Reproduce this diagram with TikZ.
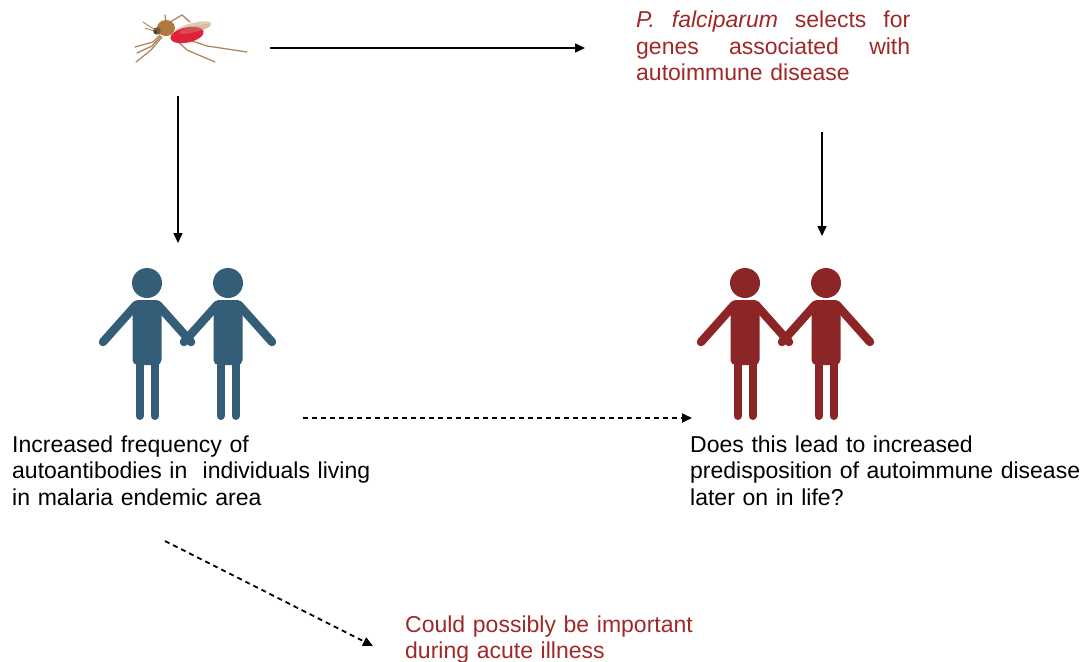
\documentclass[tikz,border=0pt]{standalone}
\usepackage{fontspec}
\setmainfont{Liberation Sans}
\usetikzlibrary{arrows.meta}

\definecolor{pplblue}{RGB}{52,94,120}
\definecolor{pplred}{RGB}{140,38,38}
\definecolor{txtred}{RGB}{160,40,40}
\definecolor{mosqbrown}{RGB}{176,120,64}
\definecolor{mosqleg}{RGB}{176,134,92}
\definecolor{mosqred}{RGB}{222,34,60}
\definecolor{mosqwing}{RGB}{200,168,126}

\tikzset{
  every node/.style={inner sep=0pt, font=\fontsize{23}{26.5}\selectfont},
  fwd/.style={line width=1.5pt, -{Triangle[length=10pt,width=9pt]}},
  maybe/.style={fwd, line width=1.8pt, dash pattern=on 5pt off 4pt},
  leg/.style={mosqleg, line width=1.3pt, line cap=round, line join=round},
  pics/person/.style={code={
    \fill (0,0) circle (15);
    \fill[rounded corners=5] (-14.5,17) rectangle (14.5,82);
    \draw[line width=8pt, line cap=round] (-7.5,76) -- (-7.5,133);
    \draw[line width=8pt, line cap=round] (7.5,76) -- (7.5,133);
    \draw[line width=8.5pt, line cap=round] (-11,22) -- (-44,59);
    \draw[line width=8.5pt, line cap=round] (11,22) -- (44,59);
  }}
}

\begin{document}
\begin{tikzpicture}[x=1pt, y=-1pt]
    \useasboundingbox (0,0) rectangle (1091,661);

    % mosquito
    \draw[leg] (160,35) -- (153,42) -- (135,47);
    \draw[leg] (161,36) -- (152,46) -- (137,53);
    \draw[leg] (162,37) -- (151,50) -- (136,62);
    \draw[leg] (172,36) -- (187,50) -- (215,62);
    \draw[leg] (175,35) -- (207,46) -- (247,52);
    \draw[leg] (166,22) -- (165,15);
    \draw[leg] (170,22) -- (182,15) -- (190,22);
    \draw[leg, line width=0.9pt] (155,30) -- (143,22);
    \draw[leg, line width=0.9pt] (154,31) -- (145,28);
    \fill[mosqwing, opacity=0.6, rotate around={14:(193,28)}] (193,28) ellipse (19 and 5);
    \fill[mosqred, rotate around={12:(187,35)}] (187,35) ellipse (17 and 7.5);
    \fill[mosqwing, opacity=0.35, rotate around={14:(195,29)}] (195,29) ellipse (16 and 3);
    \fill[mosqbrown] (166,28) ellipse (9 and 8);
    \fill[mosqbrown!75!black] (157,31) circle (3.8);
    \fill[teal!70!black] (155.5,32) circle (1.8);
    \node (mosq) at (190,37) [minimum width=120pt, minimum height=56pt] {};

    % selection text
    \node (sel) at (636,28) [anchor=base west, text width=274pt, align=left, text=txtred] {%
      \leavevmode\hbox to 274pt{\textit{P.}\hfill\textit{falciparum}\hfill selects\hfill for}\\
      \leavevmode\hbox to 274pt{genes\hfill associated\hfill with}\\
      autoimmune disease};

    % the two pairs
    \pic[color=pplblue] at (147,283) {person};
    \pic[color=pplblue] at (228,283) {person};
    \pic[color=pplred] at (745,283) {person};
    \pic[color=pplred] at (826,283) {person};
    \node (bluepair) at (188,350) [minimum width=180pt, minimum height=150pt] {};
    \node (redpair) at (786,350) [minimum width=180pt, minimum height=150pt] {};

    % captions
    \node (endemic) at (12,452) [anchor=base west, text width=400pt, align=left] {%
      Increased frequency of\\
      autoantibodies in\ \ individuals living\\
      in malaria endemic area};
    \node (later) at (690,452) [anchor=base west, text width=400pt, align=left] {%
      Does this lead to increased\\
      predisposition of autoimmune disease\\
      later on in life?};
    \node (acute) at (405,632) [anchor=base west, text width=300pt, align=left, text=txtred] {%
      Could possibly be important\\
      during acute illness};

    % arrow ends
    \coordinate (mosqR) at (270,48);
    \coordinate (selL) at (585,48);
    \coordinate (mosqB) at (178,96);
    \coordinate (blueT) at (178,243);
    \coordinate (selB) at (822,132);
    \coordinate (redT) at (822,236);
    \coordinate (endemicR) at (303,418);
    \coordinate (laterL) at (692,418);
    \coordinate (endemicB) at (165,541);
    \coordinate (acuteL) at (373,646);

    \draw[fwd] (mosqR) -- (selL);
    \draw[fwd] (mosqB) -- (blueT);
    \draw[fwd] (selB) -- (redT);
    \draw[maybe] (endemicR) -- (laterL);
    \draw[maybe] (endemicB) -- (acuteL);
\end{tikzpicture}
\end{document}
